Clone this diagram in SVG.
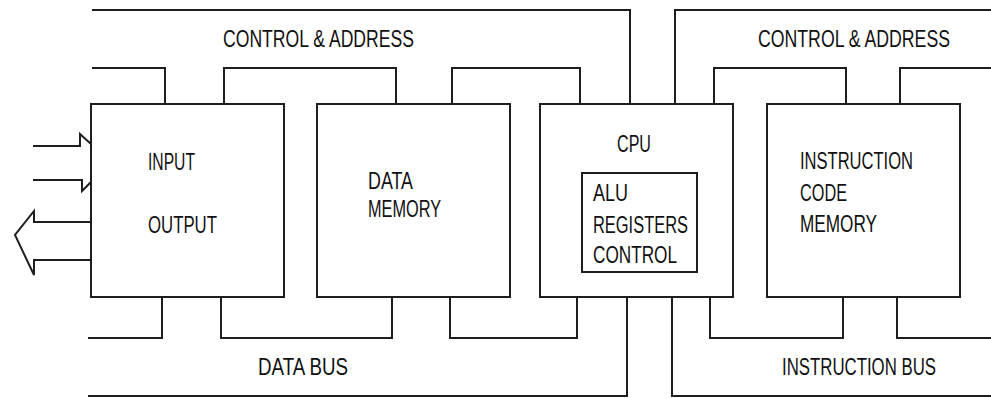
<svg xmlns="http://www.w3.org/2000/svg" width="991" height="398" viewBox="0 0 991 398">
  <style>
    .box { fill: #ffffff; stroke: #1e1e1e; stroke-width: 2; }
    .wire { fill: none; stroke: #1e1e1e; stroke-width: 2; }
    .lbl { font-family: "Liberation Sans", Arial, sans-serif; font-size: 23px; fill: #111111; }
  </style>
  <rect width="991" height="398" fill="#ffffff"/>
  <g id="connectors">
    <polyline class="wire" points="92,10 630,10 630,104"/>
    <polyline class="wire" points="675,104 675,10 991,10"/>
    <polyline class="wire" points="92,68 165,68 165,104"/>
    <polyline class="wire" points="224,104 224,68 396,68 396,104"/>
    <polyline class="wire" points="452,104 452,68 580,68 580,104"/>
    <polyline class="wire" points="714,104 714,68 846,68 846,104"/>
    <polyline class="wire" points="900,104 900,68 991,68"/>
    <polyline class="wire" points="88,338 162,338 162,297"/>
    <polyline class="wire" points="221,297 221,338 392,338 392,297"/>
    <polyline class="wire" points="450,297 450,338 577,338 577,297"/>
    <polyline class="wire" points="88,396 627,396 627,297"/>
    <polyline class="wire" points="672,297 672,396 991,396"/>
    <polyline class="wire" points="710,297 710,338 843,338 843,297"/>
    <polyline class="wire" points="897,297 897,338 991,338"/>
    <polyline class="wire" points="33,146 80,146 80,134 91,144"/>
    <polyline class="wire" points="33,180 82,180 82,191 91,182"/>
    <polyline class="wire" points="91,222 34,222 34,211 15,235 34,275 34,260 91,260"/>
  </g>
  <g id="bus-labels">
    <text class="lbl" x="223" y="47" textLength="191" lengthAdjust="spacingAndGlyphs">CONTROL &amp; ADDRESS</text>
    <text class="lbl" x="758" y="47" textLength="192" lengthAdjust="spacingAndGlyphs">CONTROL &amp; ADDRESS</text>
    <text class="lbl" x="258" y="375" textLength="90" lengthAdjust="spacingAndGlyphs">DATA BUS</text>
    <text class="lbl" x="782" y="375" textLength="154" lengthAdjust="spacingAndGlyphs">INSTRUCTION BUS</text>
  </g>
  <g id="io">
    <rect class="box" x="91" y="104" width="193" height="193"/>
    <text class="lbl" x="148" y="170" textLength="47" lengthAdjust="spacingAndGlyphs">INPUT</text>
    <text class="lbl" x="148" y="233" textLength="69" lengthAdjust="spacingAndGlyphs">OUTPUT</text>
  </g>
  <g id="data-memory">
    <rect class="box" x="317" y="104" width="193" height="193"/>
    <text class="lbl" x="368" y="189" textLength="45" lengthAdjust="spacingAndGlyphs">DATA</text>
    <text class="lbl" x="368" y="217" textLength="73" lengthAdjust="spacingAndGlyphs">MEMORY</text>
  </g>
  <g id="cpu">
    <rect class="box" x="540" y="104" width="193" height="193"/>
    <text class="lbl" x="617" y="152" textLength="34" lengthAdjust="spacingAndGlyphs">CPU</text>
    <rect class="box" x="582" y="173" width="115" height="99"/>
    <text class="lbl" x="593" y="201" textLength="35" lengthAdjust="spacingAndGlyphs">ALU</text>
    <text class="lbl" x="593" y="233" textLength="95" lengthAdjust="spacingAndGlyphs">REGISTERS</text>
    <text class="lbl" x="593" y="263" textLength="84" lengthAdjust="spacingAndGlyphs">CONTROL</text>
  </g>
  <g id="instruction-memory">
    <rect class="box" x="767" y="104" width="193" height="193"/>
    <text class="lbl" x="800" y="169" textLength="113" lengthAdjust="spacingAndGlyphs">INSTRUCTION</text>
    <text class="lbl" x="800" y="201" textLength="47" lengthAdjust="spacingAndGlyphs">CODE</text>
    <text class="lbl" x="800" y="232" textLength="77" lengthAdjust="spacingAndGlyphs">MEMORY</text>
  </g>
</svg>
